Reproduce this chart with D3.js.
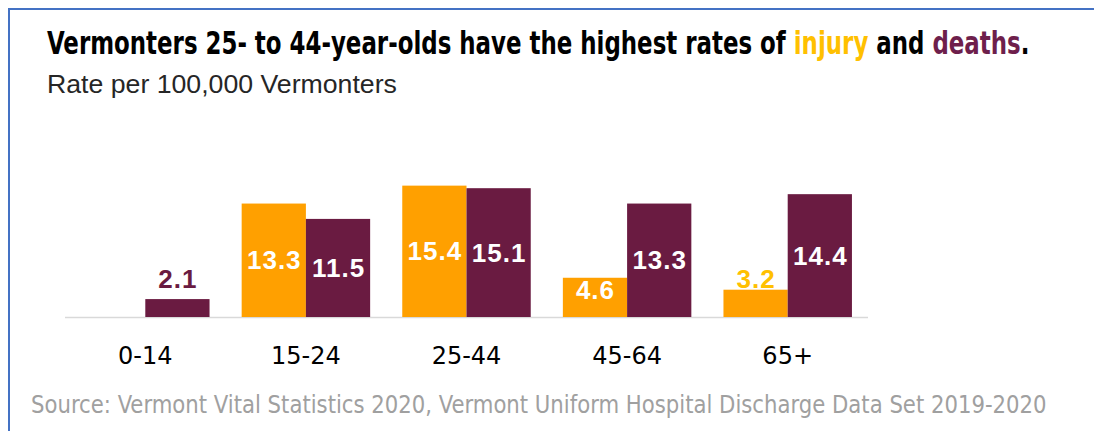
<!DOCTYPE html>
<html>
<head>
<meta charset="utf-8">
<script src="https://cdn.jsdelivr.net/npm/d3@7"></script>
<style>
  html, body { margin: 0; padding: 0; background: #fff; }
  svg { display: block; }
</style>
</head>
<body>
<svg id="chart" width="1094" height="431"></svg>
<script>
const ageGroups = ['0-14', '15-24', '25-44', '45-64', '65+'];
const injuryRates = [null, 13.3, 15.4, 4.6, 3.2];
const deathRates = [2.1, 11.5, 15.1, 13.3, 14.4];
const seriesNames = ['injury', 'deaths'];
const titleParts = [
  {text: 'Vermonters 25- to 44-year-olds have the highest rates of ', color: '#000'},
  {text: 'injury', color: '#FFC000'},
  {text: ' and ', color: '#000'},
  {text: 'deaths', color: '#6E1F4C'},
  {text: '.', color: '#000'}
];
const subtitle = 'Rate per 100,000 Vermonters';
const sourceNote = 'Source: Vermont Vital Statistics 2020, Vermont Uniform Hospital Discharge Data Set 2019-2020';

const colors = {injury: '#FFA000', deaths: '#6A1B41'};
const smallLabelColors = {injury: '#FFC000', deaths: '#6A1B41'};

const dims = {left: 65, right: 868, baseline: 317, pxPerUnit: 8.53};

const svg = d3.select('#chart');

// frame (blue lines top and left)
svg.append('line').attr('x1', 8).attr('x2', 1094).attr('y1', 9).attr('y2', 9)
   .attr('stroke', '#4472C4').attr('stroke-width', 2);
svg.append('line').attr('x1', 9).attr('x2', 9).attr('y1', 8).attr('y2', 431)
   .attr('stroke', '#4472C4').attr('stroke-width', 2);

// squeeze a text to a given width (condensed look)
const fitWidth = (sel, x, y, width) => {
  const w = sel.node().getBBox().width;
  sel.attr('transform', `translate(${x},${y}) scale(${width / w},1)`);
};

const title = svg.append('text')
  .attr('font-family', '"Liberation Sans Narrow", "DejaVu Sans Condensed", "Liberation Sans", sans-serif')
  .attr('font-weight', 'bold')
  .attr('font-size', 32);
title.selectAll('tspan')
  .data(titleParts)
  .enter()
  .append('tspan')
  .attr('fill', d => d.color)
  .text(d => d.text);
fitWidth(title, 47, 54, 983);

const sub = svg.append('text')
  .attr('font-family', '"Liberation Sans", Arial, sans-serif')
  .attr('font-size', 25)
  .attr('fill', '#262626')
  .text(subtitle);
fitWidth(sub, 47, 93, 350);

const src = svg.append('text')
  .attr('font-family', '"Liberation Sans Narrow", "DejaVu Sans Condensed", "Liberation Sans", sans-serif')
  .attr('font-size', 24)
  .attr('fill', '#A0A0A0')
  .text(sourceNote);
fitWidth(src, 31, 413, 1016);

// scales
const x0 = d3.scaleBand()
  .domain(ageGroups)
  .range([dims.left, dims.right])
  .paddingInner(0.2)
  .paddingOuter(0.1);
const x1 = d3.scaleBand()
  .domain(seriesNames)
  .range([0, x0.bandwidth()]);
const yMax = 16;
const y = d3.scaleLinear()
  .domain([0, yMax])
  .range([dims.baseline, dims.baseline - yMax * dims.pxPerUnit]);

const rows = [];
ageGroups.forEach((g, i) => {
  rows.push({group: g, series: 'injury', value: injuryRates[i]});
  rows.push({group: g, series: 'deaths', value: deathRates[i]});
});
const data = rows.filter(d => d.value != null);

// baseline
svg.append('line')
  .attr('x1', dims.left).attr('x2', dims.right)
  .attr('y1', dims.baseline + 0.5).attr('y2', dims.baseline + 0.5)
  .attr('stroke', '#D9D9D9').attr('stroke-width', 1.5);

const g = svg.append('g');
g.selectAll('.bar')
  .data(data)
  .enter()
  .append('rect')
  .attr('class', 'bar')
  .attr('x', d => x0(d.group) + x1(d.series))
  .attr('width', x1.bandwidth())
  .attr('y', d => y(d.value))
  .attr('height', d => y(0) - y(d.value))
  .attr('fill', d => colors[d.series]);

// value labels: inside the bar (white) or above it when the bar is short
g.selectAll('.val')
  .data(data)
  .enter()
  .append('text')
  .attr('class', 'val')
  .attr('font-family', '"Liberation Sans", Arial, sans-serif')
  .attr('font-weight', 'bold')
  .attr('font-size', 26)
  .attr('letter-spacing', 1)
  .attr('text-anchor', 'middle')
  .attr('x', d => x0(d.group) + x1(d.series) + x1.bandwidth() / 2 + 0.5)
  .attr('y', d => {
    if (d.value < 4) return Math.min(y(d.value) + 2, dims.baseline - 29);
    const mid = (y(d.value) + y(0)) / 2;
    return Math.min(mid, dims.baseline - 27) + 9;
  })
  .attr('fill', d => d.value < 4 ? smallLabelColors[d.series] : '#fff')
  .text(d => d3.format('.1f')(d.value));

// category axis
const xAxis = d3.axisBottom(x0).tickSize(0).tickPadding(0);
const ax = svg.append('g')
  .attr('transform', `translate(0,${dims.baseline})`)
  .call(xAxis);
ax.select('.domain').remove();
ax.selectAll('text')
  .attr('font-family', '"DejaVu Sans", sans-serif')
  .attr('font-size', 24)
  .attr('fill', '#000')
  .attr('dy', null)
  .attr('y', 47);
</script>
</body>
</html>
